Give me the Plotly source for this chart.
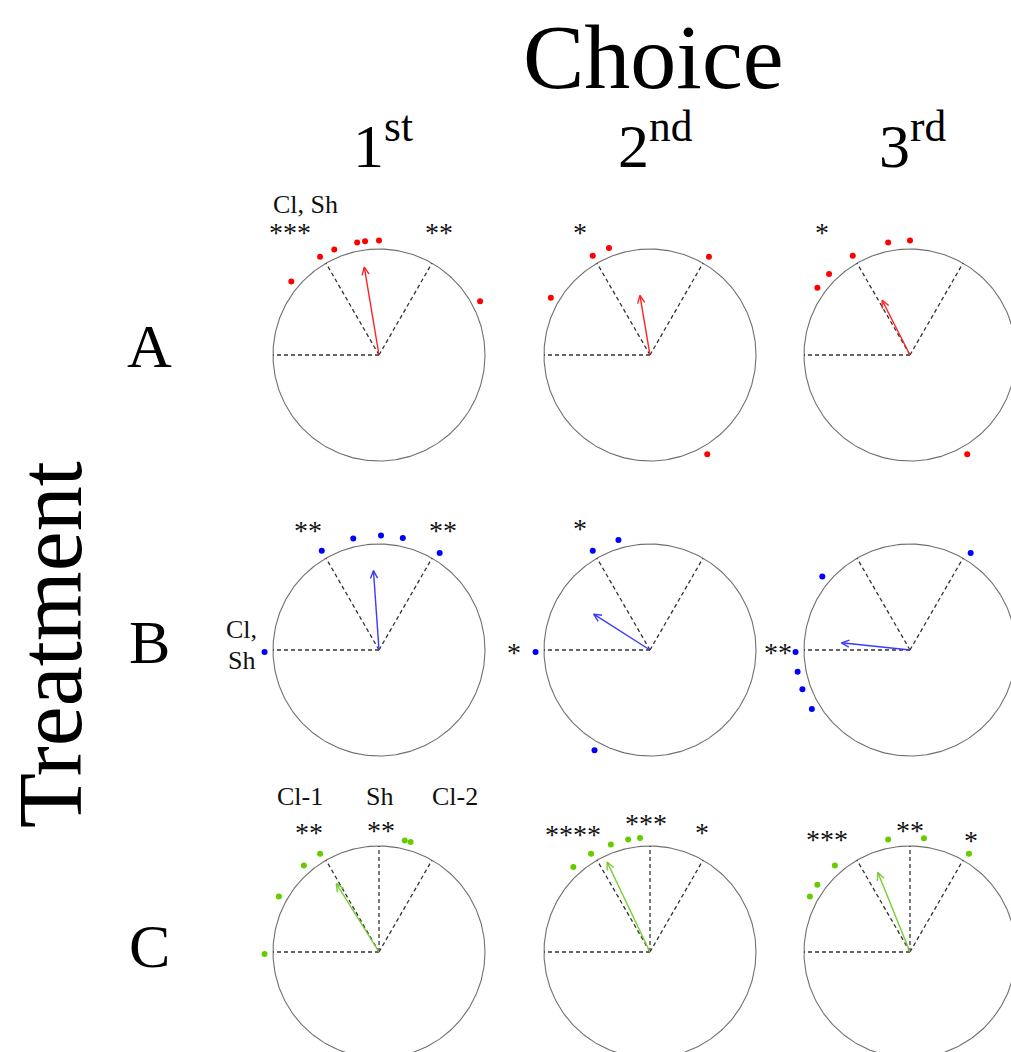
import numpy as np
import plotly.graph_objects as go

# ---------------- data ----------------
rows = ["A", "B", "C"]
cols = ["1<sup>st</sup>", "2<sup>nd</sup>", "3<sup>rd</sup>"]
row_colors = ["#ff0000", "#0000ff", "#66cc00"]
arrow_colors = ["#ff2020", "#3a3aff", "#77cc33"]

# dot angles (degrees, counter-clockwise from east) for each panel, row by row
dots_A1 = [28, 90, 97, 101, 113, 121, 140]
dots_A2 = [59, 111, 120, 150, 300]
dots_A3 = [90, 101, 120, 135, 144, 300]
dots_B1 = [58, 78, 89, 103, 120, 181]
dots_B2 = [106, 120, 181, 241]
dots_B3 = [58, 140, 181, 191, 200, 211]
dots_C1 = [74, 77, 121, 131, 151, 181]
dots_C2 = [95, 101, 110, 121, 132]
dots_C3 = [59, 83, 101, 131, 144, 151]
dot_radius = 1.08

# mean vector (angle in degrees, length relative to circle radius)
mean_angle = [99.5, 99.6, 117, 94, 147.5, 174, 122, 115.5, 112]
mean_length = [0.84, 0.57, 0.58, 0.75, 0.63, 0.65, 0.76, 0.94, 0.81]

# reference (dashed) directions
ref_angles_AB = [180, 120, 60]
ref_angles_C = [180, 120, 90, 60]

# significance / labels per panel: (text, x, y) in circle units
panel_labels = [
    [("Cl, Sh", -0.69, 1.42), ("***", -0.84, 1.16), ("**", 0.57, 1.16)],
    [("*", -0.66, 1.16)],
    [("*", -0.83, 1.16)],
    [("**", -0.67, 1.13), ("**", 0.60, 1.13), ("Cl,", -1.30, 0.19), ("Sh", -1.30, -0.10)],
    [("*", -0.66, 1.15), ("*", -1.28, -0.02)],
    [("**", -1.25, -0.02)],
    [("Cl-1", -0.75, 1.47), ("Sh", 0.0, 1.47), ("Cl-2", 0.72, 1.47),
     ("**", -0.66, 1.13), ("**", 0.02, 1.15)],
    [("****", -0.73, 1.11), ("***", -0.04, 1.21), ("*", 0.49, 1.13)],
    [("***", -0.78, 1.06), ("**", 0.0, 1.15), ("*", 0.58, 1.05)],
]

all_dots = [dots_A1, dots_A2, dots_A3, dots_B1, dots_B2, dots_B3, dots_C1, dots_C2, dots_C3]

# ---------------- layout geometry (pixels) ----------------
W, H = 1011, 1052
R = 106
CX = [379, 650, 910]
CY = [355, 650, 952]
FONT = "Liberation Serif"
HEAD_LEN = 0.08
HEAD_HALF = np.deg2rad(25)

fig = go.Figure()
layout = dict(
    width=W, height=H, margin=dict(l=0, r=0, t=0, b=0),
    paper_bgcolor="white", plot_bgcolor="rgba(0,0,0,0)", showlegend=False,
)
annotations = []

theta = np.linspace(0, 2 * np.pi, 361)

for i in range(3):
    for j in range(3):
        k = i * 3 + j
        xn = "x" if k == 0 else f"x{k+1}"
        yn = "y" if k == 0 else f"y{k+1}"
        cx, cy = CX[j], CY[i]
        ext = 1.6 * R
        L = min(ext, cx); Rt = min(ext, W - cx)
        T = min(ext, cy); B = min(ext, H - cy)
        layout["xaxis" if k == 0 else f"xaxis{k+1}"] = dict(
            domain=[(cx - L) / W, (cx + Rt) / W], range=[-L / R, Rt / R],
            visible=False, fixedrange=True, anchor=yn)
        layout["yaxis" if k == 0 else f"yaxis{k+1}"] = dict(
            domain=[(H - (cy + B)) / H, (H - (cy - T)) / H], range=[-B / R, T / R],
            visible=False, fixedrange=True, anchor=xn)

        # circle
        fig.add_trace(go.Scatter(x=np.cos(theta), y=np.sin(theta), mode="lines",
                                 line=dict(color="#707070", width=1.1),
                                 xaxis=xn, yaxis=yn, hoverinfo="skip"))
        # dashed reference lines
        refs = ref_angles_C if i == 2 else ref_angles_AB
        for a in refs:
            ar = np.deg2rad(a)
            fig.add_trace(go.Scatter(x=[0, np.cos(ar)], y=[0, np.sin(ar)], mode="lines",
                                     line=dict(color="#333333", width=1.3, dash="4px,3px"),
                                     xaxis=xn, yaxis=yn, hoverinfo="skip"))
        # dots
        ang = np.deg2rad(np.array(all_dots[k], dtype=float))
        fig.add_trace(go.Scatter(x=dot_radius * np.cos(ang), y=dot_radius * np.sin(ang),
                                 mode="markers",
                                 marker=dict(color=row_colors[i], size=6),
                                 xaxis=xn, yaxis=yn, cliponaxis=False))
        # mean vector arrow (shaft + open head)
        ma = np.deg2rad(mean_angle[k])
        tx, ty = mean_length[k] * np.cos(ma), mean_length[k] * np.sin(ma)
        back = ma + np.pi
        lx, ly = tx + HEAD_LEN * np.cos(back - HEAD_HALF), ty + HEAD_LEN * np.sin(back - HEAD_HALF)
        rx, ry = tx + HEAD_LEN * np.cos(back + HEAD_HALF), ty + HEAD_LEN * np.sin(back + HEAD_HALF)
        fig.add_trace(go.Scatter(x=[0, tx, None, lx, tx, rx], y=[0, ty, None, ly, ty, ry],
                                 mode="lines", line=dict(color=arrow_colors[i], width=1.4),
                                 xaxis=xn, yaxis=yn, hoverinfo="skip"))
        # labels
        for txt, lxp, lyp in panel_labels[k]:
            is_star = txt.strip("*") == ""
            annotations.append(dict(
                x=lxp, y=lyp, xref=xn, yref=yn, text=txt, showarrow=False,
                xanchor="center", yanchor="middle",
                font=dict(family=FONT, size=28 if is_star else 26, color="#111111")))

# headers
def paper(px, py):
    return px / W, 1 - py / H

x0, y0 = paper(653, 57)
annotations.append(dict(x=x0, y=y0, xref="paper", yref="paper", text="Choice",
                        showarrow=False, xanchor="center", yanchor="middle",
                        font=dict(family=FONT, size=92, color="black")))
for j, c in enumerate(cols):
    px, py = paper([383, 655, 912][j], 141)
    annotations.append(dict(x=px, y=py, xref="paper", yref="paper", text=c,
                            showarrow=False, xanchor="center", yanchor="middle",
                            font=dict(family=FONT, size=62, color="black")))
for i, r in enumerate(rows):
    px, py = paper(149, [346, 642, 946][i])
    annotations.append(dict(x=px, y=py, xref="paper", yref="paper", text=r,
                            showarrow=False, xanchor="center", yanchor="middle",
                            font=dict(family=FONT, size=62, color="black")))
px, py = paper(50, 645)
annotations.append(dict(x=px, y=py, xref="paper", yref="paper", text="Treatment",
                        showarrow=False, xanchor="center", yanchor="middle", textangle=-90,
                        font=dict(family=FONT, size=90, color="black")))

layout["annotations"] = annotations
fig.update_layout(**layout)
fig.write_html("out.html", config={"displayModeBar": False},
               post_script="document.body.style.margin='0px';document.body.style.overflow='hidden';")
